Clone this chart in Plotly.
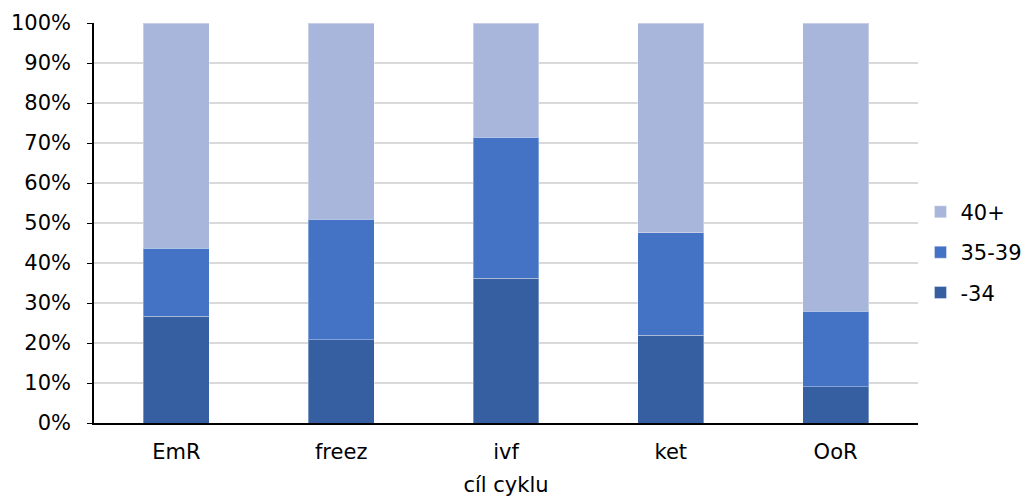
import plotly.graph_objects as go

categories = ['EmR', 'freez', 'ivf', 'ket', 'OoR']
series_names = ['-34', '35-39', '40+']
share_34 = [0.2675, 0.208, 0.3625, 0.220, 0.091]
share_35_39 = [0.170, 0.302, 0.3525, 0.256, 0.188]
share_40 = [0.5625, 0.490, 0.285, 0.524, 0.721]
colors = ['#365FA1', '#4472C4', '#A9B6DB']

fig = go.Figure()
for i, (name, vals, col) in enumerate(zip(series_names, [share_34, share_35_39, share_40], colors)):
    fig.add_trace(go.Bar(
        x=categories, y=vals, name=name, legendgroup=name, legendrank=10 - i,
        marker=dict(color=col, line=dict(color='rgba(255,255,255,0.35)', width=1)),
    ))

# page body has an 8px margin: figure is sized to fit the window
fnt = dict(family='DejaVu Sans, Verdana, sans-serif', size=21, color='#000000')
fig.update_layout(
    barmode='stack',
    bargap=0.6,
    width=1016, height=489,
    margin=dict(l=85.5, r=105.5, t=14.7, b=74.3, autoexpand=False),
    plot_bgcolor='white', paper_bgcolor='white',
    font=fnt,
    showlegend=True,
    legend=dict(x=1.003, y=0.427, xanchor='left', yanchor='middle',
                traceorder='grouped', tracegroupgap=10,
                font=fnt),
    xaxis=dict(title=dict(text='cíl cyklu', font=fnt, standoff=25),
               showline=True, linecolor='#000000', linewidth=2,
               ticks='', ticklabelstandoff=9, tickfont=fnt, automargin=False),
    yaxis=dict(range=[0, 1], dtick=0.1, tickformat='.0%',
               showgrid=True, gridcolor='#D9D9D9', gridwidth=2,
               showline=True, linecolor='#000000', linewidth=1.5,
               ticks='outside', ticklen=5, tickcolor='#000000',
               ticklabelstandoff=12,
               tickfont=fnt, zeroline=False, automargin=False),
)

fig.write_html('out.html')
